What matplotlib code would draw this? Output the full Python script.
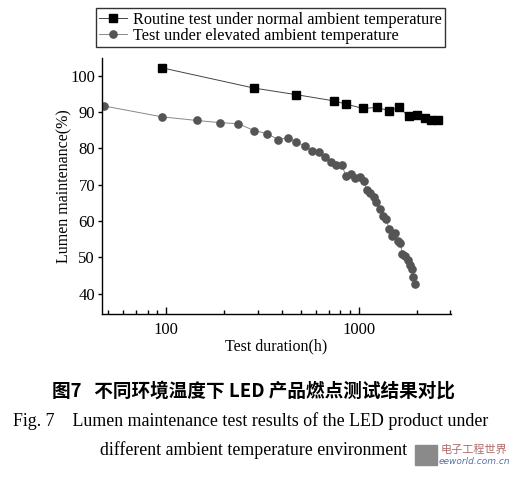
import numpy as np
import matplotlib
matplotlib.use('Agg')
import matplotlib.pyplot as plt
from matplotlib import rcParams
from matplotlib.ticker import LogLocator, NullFormatter, FixedLocator

rcParams['font.family'] = ['Liberation Serif', 'DejaVu Serif']

# routine test, normal ambient temperature (squares)
t_norm = [95, 287, 475, 742, 863, 1054, 1247, 1433, 1627, 1818, 2001, 2201, 2385, 2581]
lm_norm = [102.2, 96.6, 94.8, 93.1, 92.2, 91.0, 91.3, 90.4, 91.3, 88.8, 89.1, 88.4, 87.7, 87.8]

# test under elevated ambient temperature (circles)
t_hot = [47.4, 95, 144, 190, 237, 287, 334, 383, 431, 475, 527, 575, 620, 666, 720,
         766, 816, 863, 913, 961, 1012, 1062, 1106, 1151, 1197, 1236, 1297, 1334,
         1388, 1438, 1490, 1537, 1603, 1649, 1683, 1737, 1800, 1859, 1889, 1920, 1972]
lm_hot = [91.7, 88.7, 87.7, 87.1, 86.8, 84.9, 84.1, 82.4, 83.0, 81.8, 80.6, 79.4, 79.1,
          77.7, 76.3, 75.5, 75.4, 72.3, 72.9, 71.8, 72.0, 71.0, 68.5, 67.6, 66.5, 65.3,
          63.2, 61.4, 60.6, 57.9, 55.8, 56.7, 54.5, 53.9, 50.9, 50.5, 49.2, 47.9, 46.7,
          44.6, 42.6]

yticks = [40, 50, 60, 70, 80, 90, 100]

fig = plt.figure(figsize=(5.13, 4.78), dpi=100)
ax = fig.add_axes([102/513, 1-314/478, (451-102)/513, (314-58)/478])

ax.plot(t_norm, lm_norm, '-s', color='#444444', lw=0.7, mfc='black', mec='black',
        ms=5.2, label='Routine test under normal ambient temperature')
ax.plot(t_hot, lm_hot, '-o', color='#888888', lw=0.7, mfc='#555555', mec='#555555',
        ms=5.2, label='Test under elevated ambient temperature')

ax.set_xscale('log')
ax.set_xlim(46.4, 3020)
ax.set_ylim(34.4, 104.9)
ax.xaxis.set_major_locator(FixedLocator([100, 1000]))
ax.set_xticklabels(['100', '1000'])
ax.xaxis.set_minor_locator(LogLocator(base=10, subs=np.arange(2, 10)))
ax.xaxis.set_minor_formatter(NullFormatter())
ax.set_yticks(yticks)

for s in ['top', 'right']:
    ax.spines[s].set_visible(False)
for s in ['left', 'bottom']:
    ax.spines[s].set_linewidth(1.0)

ax.tick_params(axis='x', which='major', direction='in', length=5, width=1, labelsize=12, pad=6)
ax.tick_params(axis='x', which='minor', direction='in', length=3, width=1)
ax.tick_params(axis='y', which='major', direction='out', length=3, width=1, labelsize=12, pad=2)

ax.set_xlabel('Test duration(h)', fontsize=11.5, labelpad=0)
ax.set_ylabel('Lumen maintenance(%)', fontsize=11.5, labelpad=-1.5)

leg = ax.legend(loc='upper left', bbox_to_anchor=(95.7/513, 1-8.3/478),
                bbox_transform=fig.transFigure, fontsize=11.7, frameon=True,
                fancybox=False, edgecolor='black', borderaxespad=0,
                handlelength=1.7, handletextpad=0.4, borderpad=0.2, labelspacing=0.0)
leg.get_frame().set_linewidth(1.0)

# caption below the chart
fig.text(254/513, 1-391/478, '图7   不同环境温度下 LED 产品燃点测试结果对比',
         ha='center', va='center', fontsize=13.4, fontweight='bold',
         family=['Noto Sans CJK SC', 'DejaVu Sans'])
fig.text(13/513, 1-421/478, 'Fig. 7    Lumen maintenance test results of the LED product under',
         ha='left', va='center', fontsize=12.9)
fig.text(100/513, 1-450/478, 'different ambient temperature environment',
         ha='left', va='center', fontsize=12.8)

# watermark
fig.patches.append(plt.Rectangle((415/513, 1-465/478), 22/513, 20/478,
                                 transform=fig.transFigure, color='#8a8a8a'))
fig.text(474/513, 1-450/478, '电子工程世界', ha='center', va='center', fontsize=8,
         color='#b06a6a', family=['Noto Sans CJK SC', 'DejaVu Sans'])
fig.text(474/513, 1-462/478, 'eeworld.com.cn', ha='center', va='center', fontsize=6.5,
         color='#5a6fa8', style='italic', family=['DejaVu Sans'])

fig.savefig('out.png', dpi=100)
